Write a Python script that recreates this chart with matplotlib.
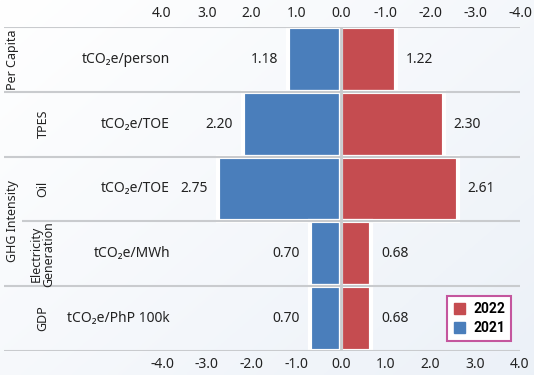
import numpy as np
import matplotlib
matplotlib.use("Agg")
import matplotlib.pyplot as plt
from matplotlib.patches import Patch

plt.rcParams['font.family'] = ['Noto Sans', 'DejaVu Sans']

groups = ["Per Capita", "TPES", "Oil", "Electricity\nGeneration", "GDP"]
units = ["tCO₂e/person", "tCO₂e/TOE", "tCO₂e/TOE", "tCO₂e/MWh", "tCO₂e/PhP 100k"]
v2021 = [1.18, 2.20, 2.75, 0.70, 0.70]
v2022 = [1.22, 2.30, 2.61, 0.68, 0.68]
ticks = [-4, -3, -2, -1, 0, 1, 2, 3, 4]

blue = "#4a7ebb"
red = "#c54c50"
grid_c = "#c9cbce"
txt = "#222222"

fig = plt.figure(figsize=(5.34, 3.75), dpi=100)

# soft background gradient
bg = fig.add_axes([0, 0, 1, 1], zorder=-5)
gx, gy = np.meshgrid(np.linspace(0, 1, 200), np.linspace(0, 1, 140))
g = np.clip(0.55 * gx + 0.45 * gy, 0, 1)
c0 = np.array([1.0, 1.0, 1.0])
c1 = np.array([0.925, 0.945, 0.972])
img = c0 + (c1 - c0) * g[..., None]
bg.imshow(img, aspect='auto', extent=[0, 1, 0, 1], origin='upper')
bg.axis('off')

W, H = 534, 375
ax = fig.add_axes([4 / W, 24 / H, 516 / W, 324 / H])
ax.patch.set_alpha(0)
unit = (520 - 162) / 8
xmin = -4 - (162 - 4) / unit
ax.set_xlim(xmin, 4)
ax.set_ylim(4.5, -0.5)

def px(p):
    return xmin + (p - 4) / unit

y = np.arange(len(groups))
ax.barh(y, [-v for v in v2021], height=1.0, color=blue, edgecolor='white', linewidth=3, zorder=2)
ax.barh(y, v2022, height=1.0, color=red, edgecolor='white', linewidth=3, zorder=2)

for i in range(len(groups) + 1):
    start = px(22) if i == 3 else xmin
    ax.hlines(i - 0.5, start, 4, color=grid_c, lw=1.5, zorder=3)
ax.vlines(0, -0.5, 4.5, color=grid_c, lw=2, zorder=3)

for i in range(len(groups)):
    ax.annotate(f"{v2021[i]:.2f}", (-v2021[i], i), xytext=(-7, 0), textcoords='offset points',
                ha='right', va='center', fontsize=10, color=txt)
    ax.annotate(f"{v2022[i]:.2f}", (v2022[i], i), xytext=(7, 0), textcoords='offset points',
                ha='left', va='center', fontsize=10, color=txt)
    ax.text(px(170), i, units[i], ha='right', va='center', fontsize=10, color=txt)
    if i > 0:
        ax.text(px(43), i, groups[i], rotation=90, ha='center', va='center', fontsize=9,
                color=txt, linespacing=0.95)

ax.text(px(13), 0, groups[0], rotation=90, ha='center', va='center', fontsize=9, color=txt)
ax.text(px(13), 2.5, "GHG Intensity", rotation=90, ha='center', va='center', fontsize=9, color=txt)

ax.set_xticks(ticks)
ax.set_xticklabels([f"{t:.1f}" for t in ticks], fontsize=10, color=txt)
ax.set_yticks([])
ax.tick_params(axis='x', length=0, pad=4)
for s in ax.spines.values():
    s.set_visible(False)

top = ax.secondary_xaxis('top')
top.set_xticks(ticks)
top.set_xticklabels([f"{-t:.1f}" if t != 0 else "0.0" for t in ticks], fontsize=10, color=txt)
top.tick_params(length=0, pad=4)
for s in top.spines.values():
    s.set_visible(False)

handles = [Patch(color=red, label="2022"), Patch(color=blue, label="2021")]
leg = ax.legend(handles=handles, loc='lower right', bbox_to_anchor=(0.983, 0.03),
                frameon=True, fancybox=False,
                prop={'family': ['Roboto', 'DejaVu Sans'], 'weight': 'bold', 'size': 10},
                handlelength=0.8, handleheight=0.8, handletextpad=0.6,
                borderpad=0.45, labelspacing=0.35, borderaxespad=0)
leg.get_frame().set_edgecolor("#c4569e")
leg.get_frame().set_linewidth(1.5)
leg.get_frame().set_facecolor("white")
leg.get_frame().set_alpha(1)
leg.set_zorder(5)

fig.savefig("out.png", dpi=100)
